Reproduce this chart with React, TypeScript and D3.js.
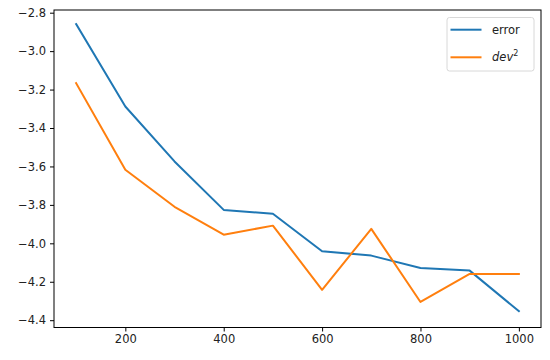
import React, { useEffect, useRef } from 'react';
import * as d3 from 'd3';

// sample sizes on the x axis
const steps = [100, 200, 300, 400, 500, 600, 700, 800, 900, 1000];
// series
const errorValues = [-2.859, -3.288, -3.574, -3.826, -3.846, -4.041, -4.064, -4.128, -4.142, -4.353];
const devValues = [-3.167, -3.617, -3.81, -3.955, -3.908, -4.242, -3.925, -4.305, -4.159, -4.159];
const xTicks = [200, 400, 600, 800, 1000];
const yTicks = [-2.8, -3.0, -3.2, -3.4, -3.6, -3.8, -4.0, -4.2, -4.4];

const App = () => {
  const ref = useRef<SVGSVGElement>(null);

  useEffect(() => {
    const svg = d3.select(ref.current);
    svg.selectAll('*').remove();

    // axes box position
    const left = 54, right = 541, top = 10, bottom = 327.5;

    const x = d3.scaleLinear().domain([55, 1045]).range([left, right]);
    const y = d3.scaleLinear().domain([-2.786, -4.438]).range([top, bottom]);

    const fmt = (v: number) => v.toFixed(1).replace('-', '\u2212');

    // lines
    const line = d3.line<number>()
      .x((_, i) => x(steps[i]))
      .y(d => y(d));

    const series = [
      { name: 'error', values: errorValues, color: '#1f77b4' },
      { name: 'dev', values: devValues, color: '#ff7f0e' },
    ];

    svg.append('g')
      .selectAll('path')
      .data(series)
      .enter()
      .append('path')
      .attr('d', d => line(d.values))
      .attr('fill', 'none')
      .attr('stroke', d => d.color)
      .attr('stroke-width', 2)
      .attr('stroke-linejoin', 'round')
      .attr('stroke-linecap', 'square');

    // frame
    svg.append('rect')
      .attr('x', left)
      .attr('y', top)
      .attr('width', right - left)
      .attr('height', bottom - top)
      .attr('fill', 'none')
      .attr('stroke', '#000')
      .attr('stroke-width', 1);

    // x axis
    const xAxis = d3.axisBottom(x)
      .tickValues(xTicks)
      .tickSize(4)
      .tickPadding(3)
      .tickFormat(d => String(d));
    const gx = svg.append('g')
      .attr('transform', `translate(0,${bottom})`)
      .call(xAxis);
    gx.select('.domain').remove();

    // y axis
    const yAxis = d3.axisLeft(y)
      .tickValues(yTicks)
      .tickSize(4)
      .tickPadding(4)
      .tickFormat(d => fmt(d as number));
    const gy = svg.append('g')
      .attr('transform', `translate(${left},0)`)
      .call(yAxis);
    gy.select('.domain').remove();

    svg.selectAll('.tick text')
      .attr('font-family', 'DejaVu Sans')
      .attr('font-size', 11.5)
      .attr('fill', '#222');
    svg.selectAll('.tick line').attr('stroke', '#000');

    // legend
    const lg = svg.append('g');
    lg.append('rect')
      .attr('x', 447)
      .attr('y', 17.5)
      .attr('width', 87)
      .attr('height', 53.5)
      .attr('rx', 2.5)
      .attr('fill', '#fff')
      .attr('fill-opacity', 0.8)
      .attr('stroke', '#d8d8d8');

    series.forEach((s, i) => {
      const ly = 29.7 + i * 27.6;
      lg.append('line')
        .attr('x1', 450.5)
        .attr('x2', 481.5)
        .attr('y1', ly)
        .attr('y2', ly)
        .attr('stroke', s.color)
        .attr('stroke-width', 2);
      const t = lg.append('text')
        .attr('x', 492)
        .attr('y', ly + 4)
        .attr('font-family', 'DejaVu Sans')
        .attr('font-size', 11.5)
        .attr('fill', '#222');
      if (s.name === 'error') {
        t.text('error');
      } else {
        t.append('tspan').attr('font-style', 'italic').text('dev');
        t.append('tspan')
          .attr('font-size', 8)
          .attr('dy', -5)
          .text('2');
      }
    });
  }, []);

  return (
    <svg
      ref={ref}
      width={550}
      height={360}
      style={{ position: 'absolute', left: 0, top: 0, background: '#fff' }}
    />
  );
};

export default App;
